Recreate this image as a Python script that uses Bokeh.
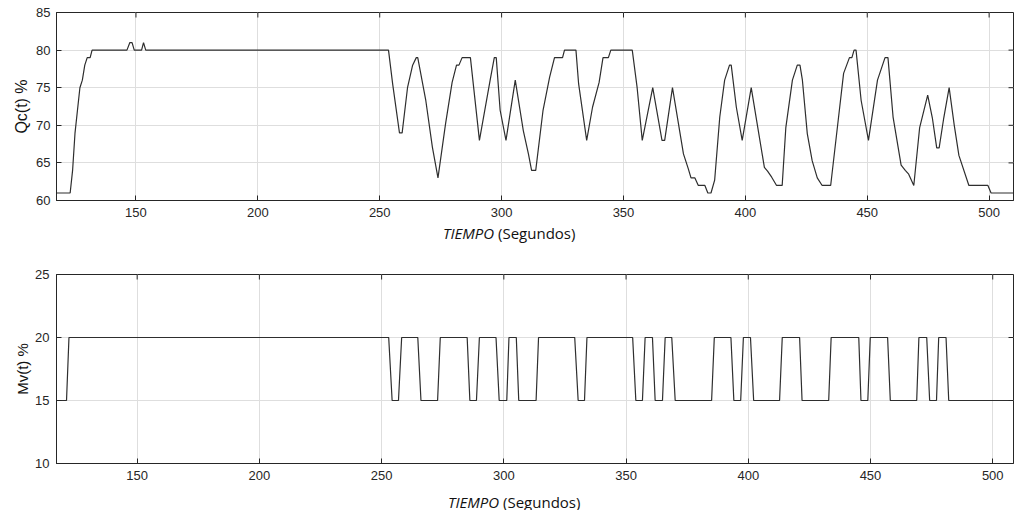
from bokeh.plotting import figure
from bokeh.models import Range1d, FixedTicker, Div
from bokeh.layouts import column
from bokeh.embed import file_html
from bokeh.resources import INLINE

# ---- data ----
t_qc = [117.4, 123, 124, 125, 126, 127, 128, 129, 130, 131.2, 132,
        146.3, 147.5, 148.4, 149.3, 152.3, 153.1, 154,
        253.6, 255.3, 258.1, 259.2, 261.4, 263.5, 265, 265.6, 268.9, 271.6, 273.9,
        277, 279.7, 281.5, 282.5, 283.8, 287.2, 290.9, 295.3, 297, 297.8, 299.4,
        301.8, 305.6, 308.9, 311, 312.3, 314, 317, 319.7, 321.7, 325, 325.8, 330.5,
        331.6, 334.9, 337.3, 340, 341.6, 343.8, 344.8, 353.6, 355.6, 357.7, 362,
        365.8, 366.9, 370.1, 374.6, 376.6, 377.7, 379.3, 380.7, 383.4, 384.6, 385.9,
        387.4, 389.5, 391.5, 393.5, 394.2, 396.3, 398.7, 399.6, 402.4, 405.1, 407.8,
        409.1, 410.8, 412.8, 415.1, 416.6, 419.3, 421.3, 422.4, 423.4, 425.4, 427.4,
        429.5, 431.5, 435, 438.7, 440.3, 442.7, 443.7, 444.6, 445.4, 447.5, 450.5,
        454.2, 457.3, 458.5, 460.6, 463.9, 465.6, 467, 469.1, 471.5, 474.8, 476.7,
        478.5, 479.5, 481.4, 483.6, 485.7, 487.6, 491.7, 499.5, 500.8, 510]
qc = [61, 61, 64, 69, 72, 75, 76, 78, 79, 79, 80,
      80, 81, 81, 80, 80, 81, 80,
      80, 75.5, 69, 69, 75, 78, 79, 79, 73.3, 67.1, 63,
      70.2, 75.7, 78, 78, 79, 79, 68, 76, 79, 79, 72,
      68, 76, 69.3, 66.2, 64, 64, 72, 76.4, 79, 79, 80, 80,
      75.5, 68, 72.4, 75.7, 79, 79, 80, 80, 75, 68, 75,
      68, 68, 75, 66.2, 64.2, 63, 63, 62, 62, 61, 61,
      62.7, 71.1, 76, 78, 78, 72.4, 68, 69.7, 75, 69.7, 64.4,
      63.9, 63.1, 62, 62, 69.7, 76, 78, 78, 76, 68.9, 65.3,
      63, 62, 62, 72.4, 76.9, 79, 79, 80, 80, 73.3, 68,
      76, 79, 79, 71.1, 64.7, 64, 63.5, 62, 69.7, 74, 71,
      67, 67, 71, 75, 70, 66, 62, 62, 61, 61]

t_mv = [117, 121.1, 122.1,
        252.9, 254.3, 256.9, 258.2,
        264.8, 266.1, 272.9, 274,
        285.0, 286.1, 288.8, 290,
        296.8, 298.1, 301.2, 302.1,
        305.1, 306.1, 313.2, 314.2,
        329, 330.4, 333, 334,
        352.7, 354, 356.7, 357.8,
        360.8, 361.9, 364.9, 366,
        368.7, 370.1, 385, 386.1,
        392.9, 394.1, 396.9, 398,
        400.9, 402.2, 412.8, 413.9,
        421, 422, 432.9, 433.9,
        445.2, 446.1, 448.9, 449.9,
        457, 458.1, 468.9, 469.8,
        473, 474.2, 477, 477.9,
        480.9, 482, 508.5]
mv = [15, 15, 20,
      20, 15, 15, 20,
      20, 15, 15, 20,
      20, 15, 15, 20,
      20, 15, 15, 20,
      20, 15, 15, 20,
      20, 15, 15, 20,
      20, 15, 15, 20,
      20, 15, 15, 20,
      20, 15, 15, 20,
      20, 15, 15, 20,
      20, 15, 15, 20,
      20, 15, 15, 20,
      20, 15, 15, 20,
      20, 15, 15, 20,
      20, 15, 15, 20,
      20, 15, 15]

x_ticks = [150, 200, 250, 300, 350, 400, 450, 500]
qc_ticks = [60, 65, 70, 75, 80, 85]
mv_ticks = [10, 15, 20, 25]
x_label_a = "TIEMPO"
x_label_b = "(Segundos)"
qc_label = "Qc(t) %"
mv_label = "Mv(t) %"

DARK = "#262626"
GRID = "#dedede"
LINE = "#2e2e2e"
TICK_FONT = "Liberation Sans"
TICK_LEN = 5  # px


def make(xr, yr, yticks, ylabel, w, h, bl, br, bt, bb, ylab_standoff,
         tick_standoff, ylab_size):
    p = figure(width=w, height=h, output_backend="svg", toolbar_location=None,
               x_range=Range1d(*xr), y_range=Range1d(*yr),
               min_border_left=bl, min_border_right=br,
               min_border_top=bt, min_border_bottom=bb)
    p.background_fill_color = "white"
    p.border_fill_color = "white"
    p.outline_line_color = DARK
    p.outline_line_width = 1
    p.xaxis.ticker = FixedTicker(ticks=x_ticks)
    p.yaxis.ticker = FixedTicker(ticks=yticks)
    for ax in (p.xaxis[0], p.yaxis[0]):
        ax.axis_line_color = DARK
        ax.major_tick_in = TICK_LEN
        ax.major_tick_out = 0
        ax.major_tick_line_color = DARK
        ax.minor_tick_line_color = None
        ax.major_label_text_font = TICK_FONT
        ax.major_label_text_font_size = "13px"
        ax.major_label_text_color = DARK
    p.xaxis.major_label_standoff = 7
    p.yaxis.major_label_standoff = tick_standoff
    p.yaxis.axis_label = ylabel
    p.yaxis.axis_label_text_font = TICK_FONT
    p.yaxis.axis_label_text_font_size = ylab_size
    p.yaxis.axis_label_text_font_style = "normal"
    p.yaxis.axis_label_text_color = "#111111"
    p.yaxis.axis_label_standoff = ylab_standoff
    p.xgrid.ticker = FixedTicker(ticks=x_ticks)
    p.ygrid.ticker = FixedTicker(ticks=yticks)
    p.grid.grid_line_color = GRID
    p.grid.grid_line_width = 1
    return p


def mirror_ticks(p, xr, yr, yticks, frame_w, frame_h):
    # inward ticks on the top and right edges, like MATLAB's box
    dy = TICK_LEN / frame_h * (yr[1] - yr[0])
    dx = TICK_LEN / frame_w * (xr[1] - xr[0])
    p.segment(x0=x_ticks, x1=x_ticks, y0=[yr[1]] * len(x_ticks),
              y1=[yr[1] - dy] * len(x_ticks), line_color=DARK, line_width=1)
    p.segment(x0=[xr[1]] * len(yticks), x1=[xr[1] - dx] * len(yticks),
              y0=yticks, y1=yticks, line_color=DARK, line_width=1)


def xlabel_div(pad_left, height, top):
    html = ('<div style="position:relative; top:%dpx; margin:0; padding-left:%dpx; '
            'line-height:16px; white-space:nowrap; font-family:\'Open Sans\'; '
            'font-size:15px; color:#111111;"><i>%s</i> %s</div>'
            % (top, pad_left, x_label_a, x_label_b))
    return Div(text=html, width=1016, height=height, margin=0)


# top panel
xr1 = (117.4, 510)
yr1 = (60, 85)
p1 = make(xr1, yr1, qc_ticks, qc_label, 1016, 224, 49, 3, 12, 24, 3, 6, "16px")
p1.line(t_qc, qc, line_color=LINE, line_width=1.2)
mirror_ticks(p1, xr1, yr1, qc_ticks, 964, 188)

# bottom panel
xr2 = (117, 508.5)
yr2 = (10, 25)
p2 = make(xr2, yr2, mv_ticks, mv_label, 1016, 232, 56, 1, 19, 24, 1, 7, "15px")
p2.line(t_mv, mv, line_color=LINE, line_width=1.2)
mirror_ticks(p2, xr2, yr2, mv_ticks, 959, 189)

d1 = xlabel_div(443, 31, 1)
d2 = xlabel_div(448, 23, 7)

layout = column(p1, d1, p2, d2, spacing=0)
open("out.html", "w").write(file_html(layout, INLINE))
